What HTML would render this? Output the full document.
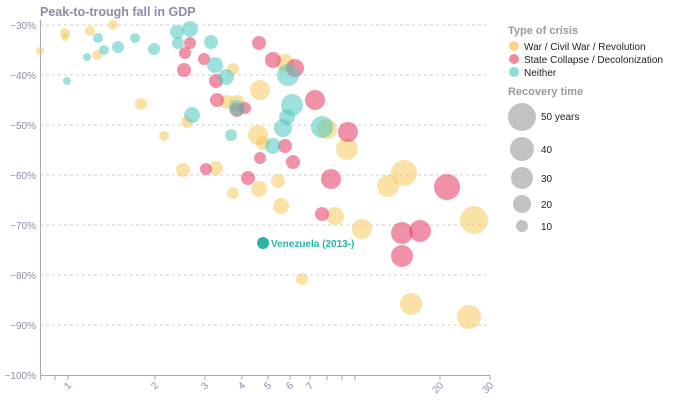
<!DOCTYPE html>
<html><head><meta charset="utf-8"><style>
html,body{margin:0;padding:0;background:#fff;width:674px;height:403px;overflow:hidden}
svg{display:block;font-family:"Liberation Sans",sans-serif}
</style></head><body>
<svg width="674" height="403" viewBox="0 0 674 403">
<text x="40" y="16" font-size="12.5" font-weight="bold" fill="#8e8ba5">Peak-to-trough fall in GDP</text>
<g stroke="#ccc" stroke-dasharray="3,3" stroke-width="1">
<line x1="40" x2="490" y1="25" y2="25"/><line x1="40" x2="490" y1="75" y2="75"/><line x1="40" x2="490" y1="125" y2="125"/><line x1="40" x2="490" y1="175" y2="175"/><line x1="40" x2="490" y1="225" y2="225"/><line x1="40" x2="490" y1="275" y2="275"/><line x1="40" x2="490" y1="325" y2="325"/>
</g>
<g font-size="10" fill="#8e8ba5" text-anchor="end">
<text x="36" y="29">−30%</text><text x="36" y="79">−40%</text><text x="36" y="129">−50%</text><text x="36" y="179">−60%</text><text x="36" y="229">−70%</text><text x="36" y="279">−80%</text><text x="36" y="329">−90%</text><text x="36" y="379">−100%</text>
</g>
<g stroke="#aaa6bd" stroke-width="1">
<line x1="40.5" y1="20" x2="40.5" y2="375"/><line x1="40" y1="375.5" x2="490" y2="375.5"/>
<line x1="40.5" y1="375" x2="40.5" y2="380"/><line x1="55" y1="375" x2="55" y2="380"/><line x1="68" y1="375" x2="68" y2="380"/><line x1="155" y1="375" x2="155" y2="380"/><line x1="205" y1="375" x2="205" y2="380"/><line x1="242" y1="375" x2="242" y2="380"/><line x1="268" y1="375" x2="268" y2="380"/><line x1="290" y1="375" x2="290" y2="380"/><line x1="310" y1="375" x2="310" y2="380"/><line x1="327" y1="375" x2="327" y2="380"/><line x1="342" y1="375" x2="342" y2="380"/><line x1="355" y1="375" x2="355" y2="380"/><line x1="440" y1="375" x2="440" y2="380"/><line x1="490" y1="375" x2="490" y2="380"/>
</g>
<g font-size="10" fill="#8e8ba5" text-anchor="middle">
<text transform="translate(70,388) rotate(-45)">1</text>
<text transform="translate(157,388) rotate(-45)">2</text>
<text transform="translate(207,388) rotate(-45)">3</text>
<text transform="translate(244,388) rotate(-45)">4</text>
<text transform="translate(270,388) rotate(-45)">5</text>
<text transform="translate(292,388) rotate(-45)">6</text>
<text transform="translate(312,388) rotate(-45)">7</text>
<text transform="translate(440,390) rotate(-45)">20</text>
<text transform="translate(490,390) rotate(-45)">30</text>
</g>
<g fill="#f5c95c" fill-opacity="0.55">
<circle cx="40" cy="51" r="4"/><circle cx="65" cy="33" r="5"/><circle cx="65" cy="37" r="4"/><circle cx="90" cy="31" r="5"/><circle cx="97" cy="55" r="5"/><circle cx="113" cy="25" r="5"/><circle cx="141" cy="104" r="6"/><circle cx="164" cy="136" r="5"/><circle cx="183" cy="170" r="7"/><circle cx="187" cy="122" r="6"/><circle cx="233" cy="69" r="6"/><circle cx="216" cy="168" r="7"/><circle cx="260" cy="90" r="10"/><circle cx="258" cy="135" r="10"/><circle cx="263" cy="143" r="7"/><circle cx="227" cy="102" r="7"/><circle cx="237" cy="103" r="8"/><circle cx="233" cy="193" r="6"/><circle cx="259" cy="189" r="8"/><circle cx="278" cy="181" r="7"/><circle cx="281" cy="206" r="8"/><circle cx="285" cy="63" r="9"/><circle cx="327" cy="129" r="10"/><circle cx="347" cy="149" r="11"/><circle cx="335" cy="216" r="9"/><circle cx="362" cy="229" r="10"/><circle cx="388" cy="186" r="11"/><circle cx="404" cy="173" r="13"/><circle cx="474" cy="220" r="14"/><circle cx="302" cy="279" r="6"/><circle cx="411" cy="304" r="11"/><circle cx="469" cy="317" r="12"/>
</g>
<g fill="#e8476c" fill-opacity="0.6">
<circle cx="190" cy="43" r="6"/><circle cx="185" cy="53" r="6"/><circle cx="184" cy="70" r="7"/><circle cx="204" cy="59" r="6"/><circle cx="216" cy="81" r="7"/><circle cx="217" cy="100" r="7"/><circle cx="245" cy="108" r="6"/><circle cx="237" cy="110" r="7"/><circle cx="259" cy="43" r="7"/><circle cx="273" cy="60" r="8"/><circle cx="295" cy="68" r="9"/><circle cx="315" cy="100" r="10"/><circle cx="348" cy="132" r="10"/><circle cx="331" cy="179" r="10"/><circle cx="206" cy="169" r="6"/><circle cx="248" cy="178" r="7"/><circle cx="260" cy="158" r="6"/><circle cx="285" cy="146" r="7"/><circle cx="293" cy="162" r="7"/><circle cx="322" cy="214" r="7"/><circle cx="402" cy="233" r="11"/><circle cx="420" cy="231" r="11"/><circle cx="402" cy="256" r="11"/><circle cx="447" cy="187" r="13"/>
</g>
<g fill="#4ec8bf" fill-opacity="0.55">
<circle cx="67" cy="81" r="4"/><circle cx="87" cy="57" r="4"/><circle cx="98" cy="38" r="5"/><circle cx="104" cy="50" r="5"/><circle cx="118" cy="47" r="6"/><circle cx="135" cy="38" r="5"/><circle cx="154" cy="49" r="6"/><circle cx="177" cy="32" r="7"/><circle cx="178" cy="43" r="6"/><circle cx="190" cy="29" r="8"/><circle cx="211" cy="42" r="7"/><circle cx="215" cy="65" r="8"/><circle cx="226" cy="77" r="8"/><circle cx="237" cy="108" r="8"/><circle cx="192" cy="115" r="8"/><circle cx="231" cy="135" r="6"/><circle cx="288" cy="75" r="11"/><circle cx="292" cy="105" r="11"/><circle cx="287" cy="117" r="8"/><circle cx="283" cy="128" r="9"/><circle cx="322" cy="127" r="11"/><circle cx="273" cy="146" r="8"/>
</g>
<circle cx="263" cy="243" r="6" fill="#2ab3a6"/>
<text x="271" y="247" font-size="10" fill="#2ab3a6" font-weight="bold">Venezuela (2013-)</text>
<text x="508" y="34" font-size="11" font-weight="bold" fill="#9a9a9a">Type of crisis</text>
<circle cx="514" cy="46" r="5" fill="#f7d68a"/><text x="524" y="50" font-size="10" fill="#222">War / Civil War / Revolution</text>
<circle cx="514" cy="59" r="5" fill="#f0899f"/><text x="524" y="63" font-size="10" fill="#222">State Collapse / Decolonization</text>
<circle cx="514" cy="72" r="5" fill="#8fdcd5"/><text x="524" y="76" font-size="10" fill="#222">Neither</text>
<text x="508" y="95" font-size="11" font-weight="bold" fill="#9a9a9a">Recovery time</text>
<g fill="#c2c2c2">
<circle cx="522" cy="117" r="14"/><circle cx="522" cy="149" r="12"/><circle cx="522" cy="178" r="11"/><circle cx="522" cy="204" r="9"/><circle cx="522" cy="226" r="6"/>
</g>
<g font-size="10" fill="#222">
<text x="541" y="120">50 years</text><text x="541" y="153">40</text><text x="541" y="182">30</text><text x="541" y="208">20</text><text x="541" y="230">10</text>
</g>
</svg>
</body></html>
